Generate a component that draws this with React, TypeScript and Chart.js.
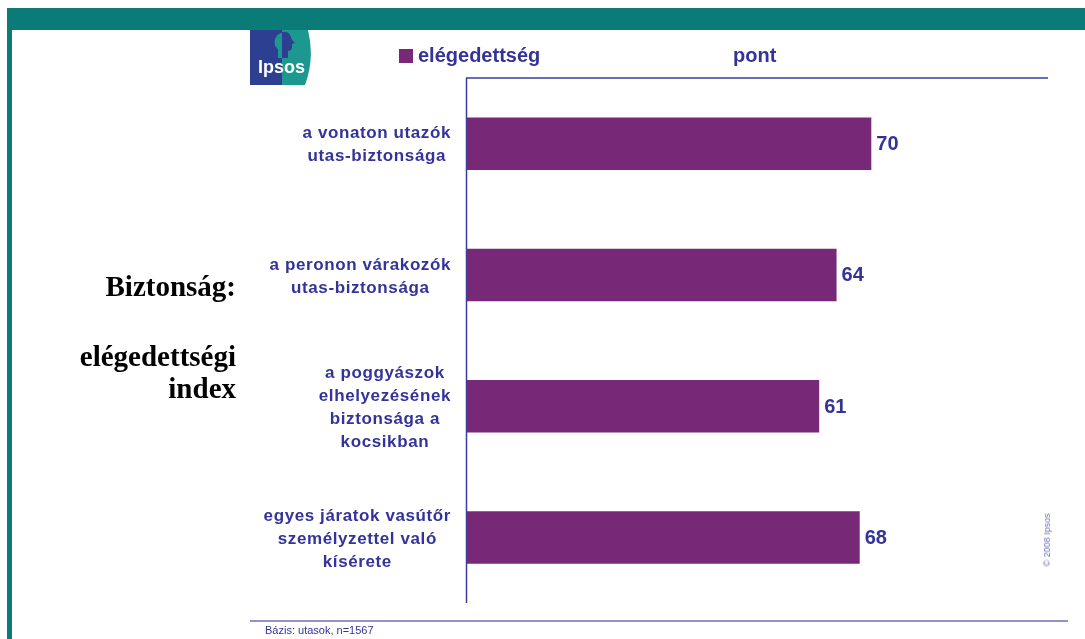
import React, { useEffect, useRef } from "react";
import { Chart, registerables } from "chart.js";

Chart.register(...registerables);

const categories: string[][] = [
  ["a vonaton utazók", "utas-biztonsága"],
  ["a peronon várakozók", "utas-biztonsága"],
  ["a poggyászok", "elhelyezésének", "biztonsága a", "kocsikban"],
  ["egyes járatok vasútőr", "személyzettel való", "kísérete"],
];
const satisfaction: number[] = [70, 64, 61, 68];
const seriesName = "elégedettség";
const unitLabel = "pont";
const titleLines = ["Biztonság:", "elégedettségi", "index"];
const baseNote = "Bázis: utasok, n=1567";
const copyright = "© 2008 Ipsos";

const NAVY = "#333399";
const PURPLE = "#772877";
const TEAL = "#0B7B78";
const SANS = '"Liberation Sans", Arial, sans-serif';
const SERIF = '"Liberation Serif", "Times New Roman", serif';

const decorPlugin = {
  id: "decor",
  afterDraw(chart: any) {
    const ctx = chart.ctx as CanvasRenderingContext2D;
    const { left, top, right, bottom } = chart.chartArea;
    ctx.save();
    // top axis line
    ctx.strokeStyle = "#6A6DBA";
    ctx.lineWidth = 2;
    ctx.beginPath();
    ctx.moveTo(left, top);
    ctx.lineTo(right + 3, top);
    ctx.stroke();
    // left axis line
    ctx.strokeStyle = "#3A3D9E";
    ctx.lineWidth = 1.5;
    ctx.beginPath();
    ctx.moveTo(left + 0.5, top);
    ctx.lineTo(left + 0.5, bottom);
    ctx.stroke();

    // category labels
    const yScale = chart.scales.y;
    ctx.font = `bold 17px ${SANS}`;
    (ctx as any).letterSpacing = "0.6px";
    ctx.fillStyle = NAVY;
    ctx.textAlign = "center";
    ctx.textBaseline = "middle";
    const lineH = 23;
    categories.forEach((lines, i) => {
      const yc = yScale.getPixelForValue(i);
      const maxW = Math.max(...lines.map((l) => ctx.measureText(l).width));
      const cx = left - 15 - maxW / 2;
      lines.forEach((l, j) => {
        ctx.fillText(l, cx, yc + 1.5 + (j - (lines.length - 1) / 2) * lineH);
      });
    });

    // value labels
    (ctx as any).letterSpacing = "0px";
    ctx.font = `bold 20px ${SANS}`;
    ctx.textAlign = "left";
    const meta = chart.getDatasetMeta(0);
    meta.data.forEach((bar: any, i: number) => {
      ctx.fillText(String(satisfaction[i]), bar.x + 5, bar.y + 1);
    });
    ctx.restore();
  },
};

function Logo() {
  return (
    <svg
      width={64}
      height={55}
      style={{ position: "absolute", left: 250, top: 30 }}
      viewBox="0 0 64 55"
    >
      <defs>
        <clipPath id="leftHalf">
          <rect x={0} y={0} width={32} height={55} />
        </clipPath>
        <clipPath id="rightHalf">
          <path d="M32,0 L58,0 Q65,28 55,55 L32,55 Z" />
        </clipPath>
      </defs>
      <rect x={0} y={0} width={32} height={55} fill="#2C3F91" />
      <path d="M32,0 L58,0 Q65,28 55,55 L32,55 Z" fill="#1D9891" />
      <g clipPath="url(#leftHalf)" fill="#1D9891">
        <circle cx={34} cy={12} r={9.5} />
        <rect x={28} y={18} width={8} height={10} />
      </g>
      <g clipPath="url(#rightHalf)" fill="#2C3F91">
        <path d="M32,2 Q39,1 41,7 L42,10 L45,13 L42,14 L42,18 Q41,21 38,21 L38,28 L32,28 Z" />
      </g>
      <text
        x={8}
        y={43}
        fill="#ffffff"
        style={{ font: `600 18px ${SANS}` }}
      >
        Ipsos
      </text>
    </svg>
  );
}

export default function App() {
  const canvasRef = useRef<HTMLCanvasElement | null>(null);

  useEffect(() => {
    if (!canvasRef.current) return;
    const chart = new Chart(canvasRef.current, {
      type: "bar",
      data: {
        labels: categories as any,
        datasets: [
          {
            label: seriesName,
            data: satisfaction,
            backgroundColor: PURPLE,
            barPercentage: 0.4,
            categoryPercentage: 1.0,
          },
        ],
      },
      options: {
        indexAxis: "y",
        responsive: false,
        animation: false,
        events: [],
        layout: { padding: { left: 466, right: 40, top: 78, bottom: 36 } },
        plugins: {
          legend: { display: false },
          tooltip: { enabled: false },
        },
        scales: {
          x: { display: false, min: 0, max: 100 },
          y: { display: false },
        },
      },
      plugins: [decorPlugin],
    });
    return () => chart.destroy();
  }, []);

  return (
    <div
      style={{
        position: "absolute",
        left: 0,
        top: 0,
        width: 1085,
        height: 639,
        background: "#ffffff",
        overflow: "hidden",
      }}
    >
      <canvas
        ref={canvasRef}
        width={1085}
        height={639}
        style={{ position: "absolute", left: 0, top: 0 }}
      />
      {/* teal frame */}
      <div style={{ position: "absolute", left: 7, top: 8, width: 1078, height: 22, background: TEAL }} />
      <div style={{ position: "absolute", left: 7, top: 8, width: 5, height: 631, background: TEAL }} />
      <Logo />
      {/* legend */}
      <div style={{ position: "absolute", left: 399, top: 49, width: 14, height: 14, background: PURPLE }} />
      <div
        style={{
          position: "absolute",
          left: 418,
          top: 44,
          font: `bold 20px ${SANS}`,
          color: NAVY,
          lineHeight: "22px",
          whiteSpace: "nowrap",
        }}
      >
        {seriesName}
      </div>
      <div
        style={{
          position: "absolute",
          left: 733,
          top: 44,
          font: `bold 20px ${SANS}`,
          color: NAVY,
          lineHeight: "22px",
        }}
      >
        {unitLabel}
      </div>
      {/* title */}
      <div
        style={{
          position: "absolute",
          right: 1085 - 236,
          top: 270,
          font: `bold 29px ${SERIF}`,
          color: "#000000",
          textAlign: "right",
          lineHeight: "32px",
          whiteSpace: "nowrap",
        }}
      >
        <div>{titleLines[0]}</div>
        <div style={{ height: 38 }} />
        <div>{titleLines[1]}</div>
        <div>{titleLines[2]}</div>
      </div>
      {/* copyright */}
      <div
        style={{
          position: "absolute",
          left: 1047,
          top: 540,
          transform: "translate(-50%, -50%) rotate(-90deg)",
          font: `9px ${SANS}`,
          color: "#6F70B8",
          whiteSpace: "nowrap",
        }}
      >
        {copyright}
      </div>
      {/* footer */}
      <div style={{ position: "absolute", left: 250, top: 620, width: 818, height: 2, background: "#8F92CC" }} />
      <div
        style={{
          position: "absolute",
          left: 265,
          top: 624,
          font: `11px ${SANS}`,
          color: NAVY,
          lineHeight: "13px",
          whiteSpace: "nowrap",
        }}
      >
        {baseNote}
      </div>
    </div>
  );
}
